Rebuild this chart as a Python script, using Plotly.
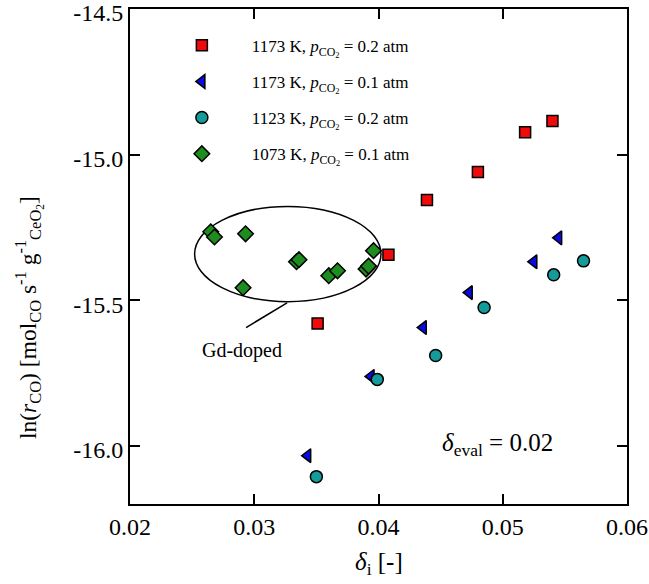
import plotly.graph_objects as go

# Data
red_x = [0.0351, 0.0408, 0.0439, 0.0480, 0.0518, 0.0540]
red_y = [-15.580, -15.344, -15.156, -15.060, -14.923, -14.885]
blue_x = [0.0343, 0.0394, 0.0436, 0.0473, 0.0525, 0.0545]
blue_y = [-16.034, -15.762, -15.594, -15.474, -15.368, -15.286]
cyan_x = [0.0350, 0.0399, 0.0446, 0.0485, 0.0541, 0.0565]
cyan_y = [-16.106, -15.772, -15.690, -15.525, -15.413, -15.365]
green_x = [0.0265, 0.0268, 0.0293, 0.0291, 0.0334, 0.0336, 0.0360, 0.0367, 0.0390, 0.0392, 0.0396]
green_y = [-15.265, -15.283, -15.272, -15.457, -15.368, -15.361, -15.416, -15.399, -15.393, -15.383, -15.330]

names = [
    "1173 K, <i>p</i><sub>CO<sub>2</sub></sub> = 0.2 atm",
    "1173 K, <i>p</i><sub>CO<sub>2</sub></sub> = 0.1 atm",
    "1123 K, <i>p</i><sub>CO<sub>2</sub></sub> = 0.2 atm",
    "1073 K, <i>p</i><sub>CO<sub>2</sub></sub> = 0.1 atm",
]

x_ticks = [0.02, 0.03, 0.04, 0.05, 0.06]
x_ticklabels = ["0.02", "0.03", "0.04", "0.05", "0.06"]
y_ticks = [-14.5, -15.0, -15.5, -16.0]
y_ticklabels = ["-14.5", "-15.0", "-15.5", "-16.0"]

SERIF = "Liberation Serif"
line = dict(color="black", width=1.5)

fig = go.Figure()
fig.add_trace(go.Scatter(x=red_x, y=red_y, mode="markers", name=names[0], legendgroup="a",
                         marker=dict(symbol="square", size=11, color="#f00a0a", line=line)))
fig.add_trace(go.Scatter(x=blue_x, y=blue_y, mode="markers", name=names[1], legendgroup="b",
                         marker=dict(symbol="triangle-left", size=12, color="#0a0ae6", line=line)))
fig.add_trace(go.Scatter(x=cyan_x, y=cyan_y, mode="markers", name=names[2], legendgroup="c",
                         marker=dict(symbol="circle", size=12, color="#169b9b", line=line)))
fig.add_trace(go.Scatter(x=green_x, y=green_y, mode="markers", name=names[3], legendgroup="d",
                         marker=dict(symbol="diamond", size=12, color="#1e8c1e", line=line)))

# Ellipse around Gd-doped group and pointer line
fig.add_shape(type="circle", xref="x", yref="y", x0=0.0252, x1=0.0402, y0=-15.505, y1=-15.178,
              line=dict(color="black", width=1.5), layer="below")
fig.add_shape(type="line", xref="x", yref="y", x0=0.03264, y0=-15.509, x1=0.02934, y1=-15.594,
              line=dict(color="black", width=1.5))

fig.add_annotation(x=0.0290, y=-15.673, xref="x", yref="y", text="Gd-doped", showarrow=False,
                   font=dict(family=SERIF, size=20, color="black"))
fig.add_annotation(x=0.0496, y=-15.995, xref="x", yref="y",
                   text="<i>δ</i><sub>eval</sub> = 0.02", showarrow=False,
                   font=dict(family=SERIF, size=25, color="black"))

# Axis titles as annotations (paper coordinates)
fig.add_annotation(x=0.5, y=-0.12, xref="paper", yref="paper", xanchor="center", yanchor="middle",
                   text="<i>δ</i><sub>i</sub> [-]", showarrow=False,
                   font=dict(family=SERIF, size=25, color="black"))
fig.add_annotation(x=-0.203, y=0.376, xref="paper", yref="paper", xanchor="center", yanchor="middle",
                   textangle=-90,
                   text="ln(<i>r</i><sub>CO</sub>) [mol<sub>CO</sub> s<sup>-1</sup> g<sup>-1</sup><sub>CeO<sub>2</sub></sub>]",
                   showarrow=False, font=dict(family=SERIF, size=23.5, color="black"))

axis_common = dict(showline=True, linecolor="black", linewidth=2, mirror="ticks",
                   ticks="inside", ticklen=10, tickwidth=1.5, tickcolor="black",
                   showgrid=False, zeroline=False, automargin=False,
                   ticklabeloverflow="allow",
                   tickfont=dict(family=SERIF, size=24, color="black"))

fig.update_xaxes(range=[0.02, 0.06], tickvals=x_ticks, ticktext=x_ticklabels, **axis_common)
fig.update_yaxes(range=[-16.2, -14.5], tickvals=y_ticks, ticktext=y_ticklabels,
                 ticklabelshift=4, **axis_common)

fig.update_layout(
    width=649, height=584,
    margin=dict(l=130, r=22, t=9, b=80, autoexpand=False),
    paper_bgcolor="white", plot_bgcolor="white",
    showlegend=True,
    legend=dict(x=0.044, y=0.962, xanchor="left", yanchor="top",
                font=dict(family=SERIF, size=17, color="black"),
                bgcolor="rgba(255,255,255,0)", itemwidth=90, tracegroupgap=11,
                traceorder="grouped"),
)

fig.write_html("out.html", config={"displayModeBar": False},
               post_script="document.body.style.margin='0';")
